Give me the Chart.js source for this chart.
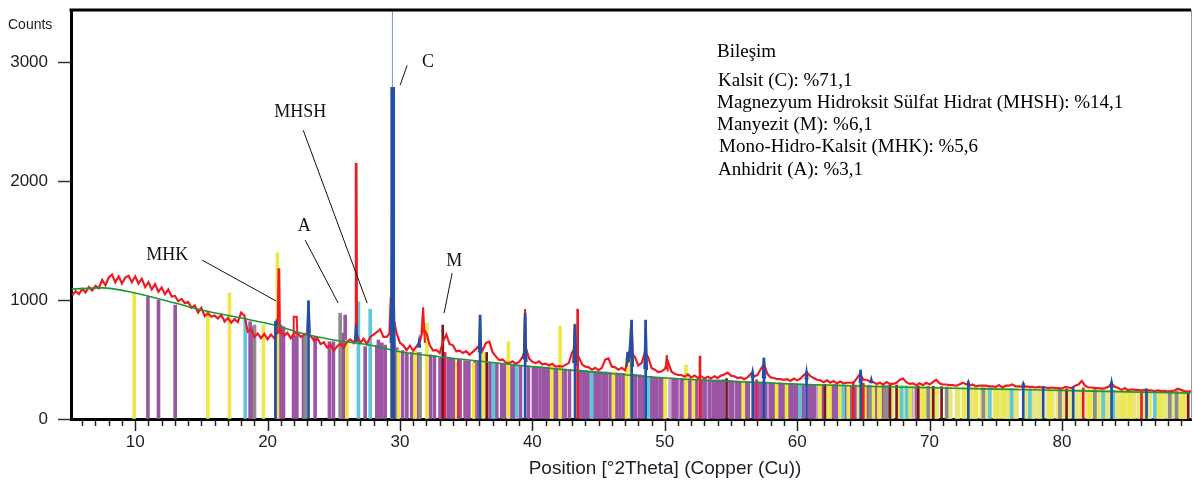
<!DOCTYPE html>
<html>
<head>
<meta charset="utf-8">
<script src="https://cdn.jsdelivr.net/npm/chart.js@4"></script>
<style>
  html, body { margin: 0; background: #fff; }
  #wrap { width: 1193px; height: 480px; }
</style>
</head>
<body>
<div id="wrap"><canvas id="xrd" width="1193" height="480"></canvas></div>
<script>
// measured scan, 0.25 deg steps starting at 5.25 deg (one group per degree)
const scanStart = 5.25;
const scanStep = 0.25;
const scanCounts = [
  1040,1075,1050,1095,  1065,1110,1080,1120,  1100,1170,1125,1190,  1215,1150,1200,1140,  1190,1205,1150,1200,
  1140,1180,1110,1150,  1090,1135,1070,1105,  1050,1090,1030,1035,  990,1010,975,985,    935,955,895,935,
  865,890,860,870,      845,875,820,850,      810,840,815,895,      870,735,755,690,      720,680,715,670,
  710,680,730,745,      700,725,680,720,      725,690,705,725,      700,660,680,630,      645,600,625,575,
  610,635,600,650,      670,640,710,640,      675,630,690,710,      730,755,690,690,      725,850,720,640,
  620,580,615,575,      610,650,760,720,      620,575,580,555,      650,710,630,620,      570,575,555,570,
  540,565,590,620,      580,640,650,560,      525,495,500,475,      470,485,465,480,      520,600,510,480,
  470,485,460,465,      450,465,440,445,      440,455,470,560,      600,520,460,440,      435,415,430,410,
  430,500,510,440,      435,415,430,410,      500,560,520,450,      470,560,520,430,      415,395,400,420,
  480,400,380,370,      370,355,375,350,      365,345,360,340,      355,340,360,345,      365,375,390,365,
  360,345,350,335,      350,380,360,370,      420,460,380,350,      345,335,335,330,      335,320,340,325,
  340,370,390,360,      345,330,325,310,      325,305,320,300,      315,300,305,305,      305,340,380,330,
  330,315,310,295,      305,290,310,295,      295,305,330,340,      310,295,300,285,      300,285,305,290,
  310,330,300,290,      290,285,285,280,      290,305,295,280,      290,275,280,280,      280,275,275,270,
  285,265,280,280,      290,275,275,270,      275,270,270,265,      270,265,265,260,      265,260,260,255,
  270,265,260,280,      290,320,280,265,      265,260,260,255,      260,270,300,270,      260,245,260,240,
  250,245,245,240,      245,240,240,235,      240,235,237,230,      235,240,255,245,      235,230,232
];

// sharp measured peaks (null breaks the line)
const redPeakPos = [20.76,20.82,20.88,20.94,20.94, 21.92,21.97,22.2,22.25,22.25, 26.62,26.66,26.72,26.76,26.76,
  29.2,29.3,29.4,29.4, 31.62,31.75,31.88,31.88, 39.35,39.45,39.55,39.55, 43.08,43.2,43.32,43.32,
  47.42,47.5,47.6,47.6, 50.07,50.15,50.23];
const redPeakCnt = [720,1260,1260,715,null, 700,860,860,700,null, 650,2145,2145,650,null,
  720,1025,900,null, 720,940,640,null, 510,925,480,null, 470,800,450,null,
  520,830,460,null, 420,538,400];

// calculated profile around the fitted peaks
const calcPos = [20.57,20.65,20.73,20.73, 22.99,23.09,23.19,23.19, 26.6,26.68,26.76,26.76,
  29.3,29.38,29.45,29.52,29.6,29.6, 31.37,31.45,31.53,31.53, 35.96,36.05,36.14,36.14,
  39.36,39.45,39.54,39.54, 43.13,43.22,43.31,43.31, 47.1,47.18,47.28,47.5,47.6,47.6,
  48.46,48.56,48.66,48.66, 56.56,56.64,56.72,56.72, 57.4,57.49,57.58,57.58, 60.63,60.71,60.79,60.79,
  64.72,64.8,64.88,64.88, 65.52,65.6,65.68,65.68, 72.85,72.93,73.01,73.01, 77.0,77.08,77.16,77.16,
  83.67,83.75,83.83];
const calcCnt = [790,818,790,null, 730,994,720,null, 660,800,650,null,
  640,1300,2790,1100,600,null, 600,660,600,null, 560,874,550,null,
  500,890,480,null, 470,790,450,null, 440,566,480,832,440,null,
  420,832,410,null, 345,398,345,null, 345,513,340,null, 330,398,330,null,
  305,412,305,null, 300,336,300,null, 285,313,285,null, 275,300,275,null,
  262,313,262];

// background curve
const bgPos = [5.2,7.5,10,13,15,18,20.5,22.5,25,27.7,30,34.5,40,45,50,55,60,65,70,75,80,85,89.7];
const bgCnt = [1092,1103,1060,975,916,849,790,723,664,622,566,505,440,390,345,315,292,276,263,251,240,228,218];

// reference sticks per phase colour
const yellowPos = [9.92,15.49,17.12,19.69,20.74,25.99,29.38,29.88,31.14,32.03,34.29,35.55,36.3,38.19,41.46,42.09,
  46.12,47.12,47.43,50.02,51.6,52.16,55.93,58.45,59.2,61.72,62.48,63.23,63.86,65.12,65.75,66.26,67.7,68.52,
  69.53,72.55,73.55,75.06,75.57,79.09,82.11,84.63,85.13,87.4,89.16];
const yellowTop = [1060,916,1060,790,1397,664,1110,580,570,806,482,470,566,650,445,781,
  400,512,765,350,454,340,322,305,302,295,292,290,288,285,282,282,280,278,
  275,268,265,262,260,252,248,245,242,238,232];

const paleYellowPos = [62.2,62.95,63.35,64.6,65.4,66.1,66.5,66.9,67.2,68.0,68.2,68.8,69.35,69.7,70.1,70.45,
  70.6,71.45,71.6,72.04,72.2,72.7,73.05,73.2,73.4,73.9,74.2,74.4,74.9,75.3,75.75,75.9,76.0,76.4,76.6,
  77.3,77.75,77.9,78.2,78.45,78.9,79.3,79.65,80.1,80.6,81.0,81.2,81.45,81.9,82.3,82.6,82.8,83.0,83.3,
  83.5,84.0,84.2,84.45,84.85,85.3,85.5,85.8,86.2,86.5,86.7,87.2,87.55,87.7,87.95,88.2,88.4,88.9,89.0,
  89.3,89.45];
const paleYellowTop = [292,289,288,288,285,283,282,282,281,280,279,278,276,275,272,271,
  270,269,268,268,267,266,266,266,265,264,263,263,262,261,260,260,259,258,258,
  257,256,256,255,254,254,253,252,252,251,250,250,249,248,247,247,246,246,245,
  245,244,244,243,242,241,241,240,239,238,238,237,236,236,235,234,234,233,233,
  232,232];

const purplePos = [10.96,11.76,13.02,18.68,18.89,20.62,20.98,21.2,21.96,22.21,22.71,23.59,24.67,24.97,25.73,25.86,
  27.37,28.25,28.37,28.63,28.88,29.76,30.2,30.52,30.89,31.39,32.3,32.6,33.03,33.16,33.66,33.9,34.04,34.54,34.92,
  35.2,35.67,35.95,36.8,37.31,37.69,37.9,38.44,38.6,39.1,39.7,40.08,40.3,40.58,40.85,41.08,
  41.3,41.7,41.9,42.2,42.47,42.8,43.6,43.85,44.0,44.2,44.6,44.86,45.1,45.35,45.61,45.9,46.35,46.62,46.9,
  47.6,47.8,48.1,48.35,48.9,49.0,49.2,49.39,49.65,49.9,50.65,50.9,51.28,51.55,51.9,52.1,52.41,52.8,53.04,
  53.4,53.67,53.9,54.04,54.2,54.42,54.93,55.1,55.45,55.68,56.1,56.31,56.8,57.05,57.32,57.6,
  58.0,58.2,58.6,58.83,59.05,59.35,59.58,59.83,60.0,60.45,60.95,61.09,61.3,61.9,62.6,62.85,
  63.1,63.7,64.05,64.36,65.3,65.9,66.38,66.6,69.02];
const purpleTop = [1028,1000,958,818,776,818,790,776,700,700,706,692,650,650,722,874,
  608,620,664,640,622,600,575,552,560,560,540,535,512,515,520,510,505,495,490,
  488,485,485,475,470,465,462,458,455,452,448,445,442,440,438,435,
  432,428,425,422,420,418,412,410,408,405,402,400,398,396,395,392,388,385,384,
  378,375,372,368,358,355,352,350,350,348,345,343,340,340,338,336,335,333,332,
  330,328,328,328,327,330,325,322,320,318,316,315,314,313,312,311,
  307,305,304,302,302,300,300,298,296,294,292,292,291,289,288,290,
  287,285,284,285,282,280,280,279,272];

const lavenderPos = [50.4,51.02,53.29,55.3,57.82,61.47,63.0,68.64];
const lavenderTop = [345,340,330,322,310,292,288,272];

const cyanPos = [18.31,26.86,27.75,37.06,38.82,44.48,48.76,60.21,63.49,67.89,68.27,74.56,76.2,77.58,83.12,83.87,87.02];
const cyanTop = [832,986,924,470,455,400,360,295,288,280,278,262,258,255,246,245,238];

const greyPos = [19.01,22.84,25.48,31.52,65.5,66.63,66.88,69.9,71.29,74.06,79.85,82.49,88.15,88.66];
const greyTop = [790,710,890,560,285,282,280,274,270,264,252,248,236,236];

const darkRedPos = [33.23,36.55,54.67,62.1,67.01,67.51,69.15,70.28,70.91,80.35,89.54];
const darkRedTop = [790,560,340,292,285,285,278,275,272,252,232];

const redStickPos = [43.42,52.66,64.24,65.0,81.61,86.01];
const redStickTop = [924,529,313,300,262,245];

const pinkPos = [33.41,34.41,56.94];
const pinkTop = [560,500,330];

const blueStickPos = [20.6,23.09,36.05,39.45,43.22,47.5,48.56,56.64,57.49,60.71,64.8,72.93,77.08,78.59,80.85,83.75,86.39];
const blueStickTop = [818,994,874,890,790,832,832,398,513,398,412,313,300,275,270,313,255];

const mainPeakPos = [29.45];
const mainPeakTop = [2790];

const yTicks = [0, 1000, 2000, 3000];

const compTitle = 'Bileşim';
const compLines = [
  'Kalsit (C): %71,1',
  'Magnezyum Hidroksit Sülfat Hidrat (MHSH): %14,1',
  'Manyezit (M): %6,1',
  'Mono-Hidro-Kalsit (MHK): %5,6',
  'Anhidrit (A): %3,1'
];

// phase labels with leader lines, in data units
const markers = [
  { label: 'MHK',  tx: 12.42, ty: 1378, x1: 15.06, y1: 1336, x2: 20.65, y2: 992 },
  { label: 'A',    tx: 22.76, ty: 1622, x1: 22.84, y1: 1504, x2: 25.33, y2: 975 },
  { label: 'MHSH', tx: 22.46, ty: 2580, x1: 22.69, y1: 2429, x2: 27.52, y2: 975 },
  { label: 'C',    tx: 32.12, ty: 3000, x1: 30.01, y1: 2807, x2: 30.54, y2: 2975 },
  { label: 'M',    tx: 34.09, ty: 1328, x1: 33.94, y1: 1227, x2: 33.33, y2: 891 }
];

const sansFont = '"Liberation Sans", Arial, sans-serif';
const serifFont = '"Liberation Serif", "Times New Roman", serif';

function points(xs, ys) {
  return xs.map((x, i) => ({ x: x, y: ys[i] }));
}

function stickSet(pos, top, color, thick, order) {
  return {
    type: 'bar',
    data: points(pos, top),
    backgroundColor: color,
    barThickness: thick,
    grouped: false,
    order: order
  };
}

function lineSet(data, color, width, order, extra) {
  return Object.assign({
    type: 'line',
    data: data,
    borderColor: color,
    borderWidth: width,
    pointRadius: 0,
    fill: false,
    tension: 0,
    spanGaps: false,
    order: order
  }, extra || {});
}

const scanData = scanCounts.map((c, i) => ({ x: scanStart + i * scanStep, y: c }));

const decor = {
  id: 'decor',
  afterDraw(chart) {
    const { ctx, chartArea: a, scales: { x, y } } = chart;
    ctx.save();

    // top frame and thin right edge
    ctx.strokeStyle = '#000';
    ctx.lineWidth = 3;
    ctx.beginPath();
    ctx.moveTo(a.left - 1.5, a.top);
    ctx.lineTo(a.right, a.top);
    ctx.stroke();
    ctx.strokeStyle = '#999';
    ctx.lineWidth = 1;
    ctx.beginPath();
    ctx.moveTo(a.right + 0.5, a.top);
    ctx.lineTo(a.right + 0.5, a.bottom);
    ctx.stroke();

    // x tick marks every degree, longer every ten
    ctx.strokeStyle = '#222';
    ctx.lineWidth = 1.5;
    for (let v = Math.ceil(x.min); v <= x.max; v++) {
      const px = Math.round(x.getPixelForValue(v)) + 0.5;
      const len = v % 10 === 0 ? 11 : 6;
      ctx.beginPath();
      ctx.moveTo(px, a.bottom + 1);
      ctx.lineTo(px, a.bottom + 1 + len);
      ctx.stroke();
    }

    // axis captions
    ctx.fillStyle = '#1e1e28';
    ctx.textBaseline = 'alphabetic';
    ctx.font = '14px ' + sansFont;
    ctx.textAlign = 'left';
    ctx.fillText('Counts', 8, 29);
    ctx.font = '19px ' + sansFont;
    ctx.textAlign = 'center';
    ctx.fillText('Position [°2Theta] (Copper (Cu))', 665, 474);

    // phase labels
    ctx.strokeStyle = '#111';
    ctx.lineWidth = 1;
    ctx.fillStyle = '#111';
    ctx.font = '18px ' + serifFont;
    ctx.textBaseline = 'middle';
    markers.forEach(m => {
      ctx.beginPath();
      ctx.moveTo(x.getPixelForValue(m.x1), y.getPixelForValue(m.y1));
      ctx.lineTo(x.getPixelForValue(m.x2), y.getPixelForValue(m.y2));
      ctx.stroke();
      ctx.fillText(m.label, x.getPixelForValue(m.tx), y.getPixelForValue(m.ty));
    });

    // composition block
    ctx.textAlign = 'left';
    ctx.textBaseline = 'alphabetic';
    ctx.font = '19px ' + serifFont;
    ctx.fillStyle = '#000';
    ctx.fillText(compTitle, 717, 57);
    const base = [86, 107.5, 129.5, 152, 174.5];
    const left = [718, 717, 717, 719, 718];
    compLines.forEach((t, i) => ctx.fillText(t, left[i], base[i]));

    ctx.restore();
  }
};

new Chart(document.getElementById('xrd'), {
  type: 'line',
  data: {
    datasets: [
      lineSet([{ x: 29.43, y: 2790 }, { x: 29.43, y: 3700 }], 'rgb(120,150,215)', 1, 0),
      lineSet(points(calcPos, calcCnt), 'rgb(35,80,165)', 2.2, 1),
      stickSet(mainPeakPos, mainPeakTop, 'rgb(35,80,165)', 4, 2),
      stickSet(blueStickPos, blueStickTop, 'rgb(35,80,165)', 2, 2),
      lineSet(points(bgPos, bgCnt), 'rgb(30,150,50)', 1.6, 3, { tension: 0.4, cubicInterpolationMode: 'monotone' }),
      lineSet(points(redPeakPos, redPeakCnt), 'rgb(237,28,36)', 2, 4),
      lineSet(scanData, 'rgb(237,28,36)', 2.2, 5),
      stickSet(redStickPos, redStickTop, 'rgb(237,28,36)', 2, 6),
      stickSet(darkRedPos, darkRedTop, 'rgb(125,20,30)', 2, 7),
      stickSet(pinkPos, pinkTop, 'rgb(225,35,95)', 2, 7),
      stickSet(greyPos, greyTop, 'rgb(140,140,140)', 3, 8),
      stickSet(cyanPos, cyanTop, 'rgb(95,200,215)', 3, 8),
      stickSet(yellowPos, yellowTop, 'rgb(238,232,70)', 3, 9),
      stickSet(purplePos, purpleTop, 'rgb(155,85,165)', 3, 10),
      stickSet(lavenderPos, lavenderTop, 'rgb(200,165,215)', 3, 10),
      stickSet(paleYellowPos, paleYellowTop, 'rgb(232,230,125)', 3, 11)
    ]
  },
  options: {
    responsive: false,
    animation: false,
    devicePixelRatio: 1,
    layout: { padding: { left: 0, right: 2, top: 10, bottom: 0 } },
    plugins: { legend: { display: false }, tooltip: { enabled: false } },
    scales: {
      x: {
        type: 'linear',
        min: 5.15,
        max: 89.75,
        offset: false,
        grid: { drawOnChartArea: false, drawTicks: false },
        border: { color: '#000', width: 3 },
        ticks: {
          stepSize: 10,
          includeBounds: false,
          autoSkip: false,
          maxRotation: 0,
          padding: 13,
          color: '#1e1e28',
          font: { family: sansFont, size: 17 }
        },
        afterFit(s) { s.height = 61; s.paddingLeft = 0; s.paddingRight = 0; }
      },
      y: {
        min: 0,
        max: 3440,
        grid: { drawOnChartArea: false, tickLength: 13, tickColor: '#333', tickWidth: 1.5 },
        border: { color: '#000', width: 3 },
        afterBuildTicks(s) { s.ticks = yTicks.map(v => ({ value: v })); },
        ticks: {
          padding: 10,
          color: '#1e1e28',
          font: { family: sansFont, size: 17 },
          callback: v => String(v)
        },
        afterFit(s) { s.width = 71; s.paddingTop = 0; s.paddingBottom = 0; }
      }
    }
  },
  plugins: [decor]
});
</script>
</body>
</html>
